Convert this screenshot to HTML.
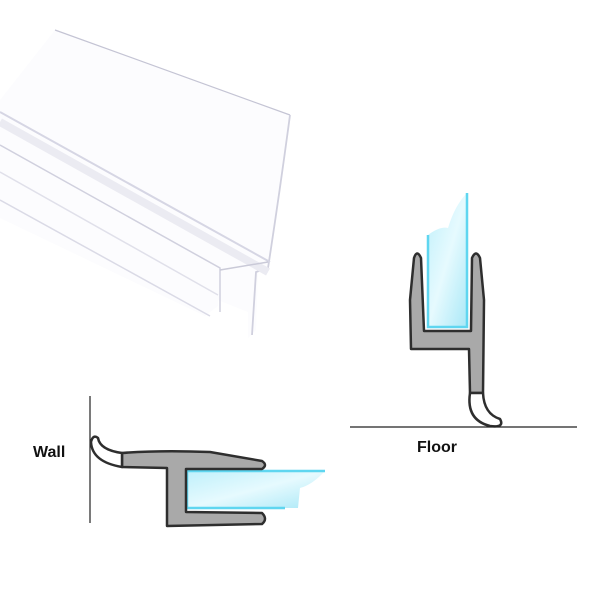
<!DOCTYPE html>
<html><head><style>
html,body{margin:0;padding:0;background:#fff;}
svg{display:block;}
text{font-family:"Liberation Sans",sans-serif;font-weight:bold;}
</style></head><body>
<svg width="600" height="600" viewBox="0 0 600 600">
<defs>
<linearGradient id="gl" x1="0" y1="0" x2="1" y2="1">
<stop offset="0" stop-color="#bff0fb"/><stop offset="0.5" stop-color="#e6fafe"/><stop offset="1" stop-color="#a9e8f7"/>
</linearGradient>
</defs>
<!-- clear profile photo -->
<path d="M55,30 L290,115 Q278,200 268,268 L258,270 L256,330 L248,338 L248,312 L218,300 L218,306 L205,316 L0,218 L0,100 Z" fill="#fcfcfe"/>
<path d="M55,30 L290,115" stroke="#c4c4d4" stroke-width="1.2" fill="none"/>
<path d="M290,115 Q280,190 268,268 L256,272 L252,335" stroke="#d0d0de" stroke-width="1.8" fill="none"/>
<path d="M0,112 L270,262" stroke="#d6d6e4" stroke-width="2" fill="none"/>
<path d="M0,122 L268,272" stroke="#ebebf2" stroke-width="8" fill="none"/>
<path d="M0,145 L220,268 L220,312" stroke="#d0d0de" stroke-width="1.5" fill="none"/>
<path d="M0,172 L218,295" stroke="#e0e0ea" stroke-width="1.5" fill="none"/>
<path d="M0,200 L210,316" stroke="#dadae6" stroke-width="1.5" fill="none"/>
<path d="M220,270 L268,262" stroke="#cacad8" stroke-width="1.5" fill="none"/>

<!-- floor diagram -->
<path d="M428,235 Q440,226 448,228 Q455,205 467,193 L467,327 L428,327 Z" fill="url(#gl)"/>
<path d="M428,235 L428,327 L467,327 L467,193" stroke="#5fd6f0" stroke-width="2.5" fill="none"/>
<path d="M411,349 L410,300 L414,258 Q417,249 421,258 L424,331 L471,331 L472,258 Q476,249 480,258 L484,300 L483,393 L470,393 L469,349 Z" fill="#a9a9a9" stroke="#2e2e2e" stroke-width="2.5" stroke-linejoin="round"/>
<path d="M470,393 Q466,420 490,426 Q505,428 500,419 Q484,414 483,393 Z" fill="#fff" stroke="#2e2e2e" stroke-width="2.5" stroke-linejoin="round"/>
<line x1="350" y1="427" x2="577" y2="427" stroke="#222" stroke-width="1.2"/>
<text x="417" y="452" font-size="16" fill="#111">Floor</text>

<!-- wall diagram -->
<line x1="90" y1="396" x2="90" y2="523" stroke="#222" stroke-width="1.2"/>
<text x="33" y="457" font-size="16" fill="#111">Wall</text>
<path d="M187,471 L325,471 Q312,485 300,488 L298,508 L187,508 Z" fill="url(#gl)"/>
<path d="M325,471 L187,471 L187,508 L285,508" stroke="#5fd6f0" stroke-width="2.5" fill="none"/>
<path d="M122,453 Q160,450 210,452 L262,461 Q268,465 262,469 L186,469 L186,512 L262,513 Q268,519 262,524 L167,526 L167,468 L122,467 Z" fill="#a9a9a9" stroke="#2e2e2e" stroke-width="2.5" stroke-linejoin="round"/>
<path d="M122,453 Q100,450 98,438 Q93,434 91,442 Q92,462 122,467 Z" fill="#fff" stroke="#2e2e2e" stroke-width="2.5" stroke-linejoin="round"/>
</svg>
</body></html>
